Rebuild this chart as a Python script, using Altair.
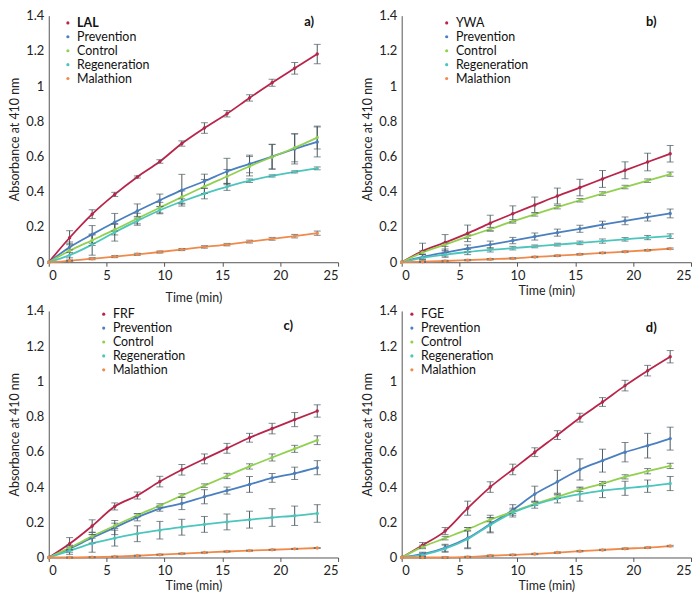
import altair as alt
import pandas as pd

time_min = [0, 1.8, 3.75, 5.7, 7.65, 9.6, 11.5, 13.45, 15.4, 17.35, 19.3, 21.25, 23.2]
series_names = ["Prevention", "Control", "Regeneration", "Malathion"]
colors = ["#b8254a", "#4a7fc0", "#92d050", "#4cc6bc", "#f08a4b"]

# Panel a) LAL
a_first = "LAL"
a_vals = {
    "LAL": [0, 0.139, 0.273, 0.385, 0.484, 0.572, 0.674, 0.762, 0.843, 0.933, 1.019, 1.101, 1.182],
    "Prevention": [0, 0.085, 0.158, 0.227, 0.291, 0.352, 0.409, 0.46, 0.515, 0.558, 0.6, 0.643, 0.683],
    "Control": [0, 0.065, 0.125, 0.185, 0.248, 0.31, 0.37, 0.43, 0.487, 0.545, 0.598, 0.65, 0.708],
    "Regeneration": [0, 0.04, 0.1, 0.17, 0.235, 0.295, 0.345, 0.39, 0.428, 0.463, 0.49, 0.513, 0.533],
    "Malathion": [0, 0.008, 0.02, 0.032, 0.045, 0.058, 0.072, 0.087, 0.1, 0.117, 0.133, 0.148, 0.165],
}
a_err = {
    "LAL": [0, 0.04, 0.025, 0.012, 0.006, 0.01, 0.015, 0.03, 0.018, 0.018, 0.02, 0.033, 0.055],
    "Prevention": [0, 0.03, 0.05, 0.05, 0.04, 0.035, 0.09, 0.04, 0.075, 0.05, 0.07, 0.085, 0.085],
    "Control": [0, 0.04, 0.03, 0.03, 0.03, 0.03, 0.035, 0.04, 0.04, 0.055, 0.07, 0.08, 0.065],
    "Regeneration": [0, 0.03, 0.06, 0.05, 0.025, 0.02, 0.015, 0.03, 0.02, 0.01, 0.006, 0.006, 0.008],
    "Malathion": [0, 0.005, 0.006, 0.006, 0.006, 0.006, 0.006, 0.007, 0.007, 0.008, 0.008, 0.01, 0.012],
}

# Panel b) YWA
b_first = "YWA"
b_vals = {
    "YWA": [0, 0.063, 0.112, 0.164, 0.222, 0.275, 0.325, 0.376, 0.424, 0.473, 0.522, 0.569, 0.616],
    "Prevention": [0, 0.03, 0.055, 0.078, 0.1, 0.123, 0.146, 0.168, 0.19, 0.213, 0.235, 0.256, 0.277],
    "Control": [0, 0.055, 0.1, 0.145, 0.188, 0.232, 0.272, 0.313, 0.352, 0.39, 0.427, 0.463, 0.5],
    "Regeneration": [0, 0.025, 0.043, 0.058, 0.07, 0.08, 0.09, 0.1, 0.11, 0.12, 0.13, 0.14, 0.148],
    "Malathion": [0, 0.003, 0.007, 0.012, 0.017, 0.022, 0.03, 0.037, 0.045, 0.053, 0.06, 0.068, 0.077],
}
b_err = {
    "YWA": [0, 0.045, 0.045, 0.047, 0.045, 0.045, 0.045, 0.045, 0.047, 0.048, 0.048, 0.05, 0.047],
    "Prevention": [0, 0.015, 0.02, 0.02, 0.02, 0.018, 0.02, 0.02, 0.02, 0.02, 0.022, 0.022, 0.025],
    "Control": [0, 0.01, 0.01, 0.01, 0.01, 0.01, 0.01, 0.01, 0.01, 0.01, 0.01, 0.01, 0.012],
    "Regeneration": [0, 0.02, 0.015, 0.015, 0.012, 0.01, 0.008, 0.008, 0.01, 0.012, 0.01, 0.012, 0.013],
    "Malathion": [0, 0.004, 0.004, 0.004, 0.004, 0.004, 0.004, 0.004, 0.004, 0.004, 0.004, 0.004, 0.004],
}

# Panel c) FRF
c_first = "FRF"
c_vals = {
    "FRF": [0, 0.078, 0.179, 0.29, 0.352, 0.431, 0.498, 0.56, 0.62, 0.68, 0.732, 0.783, 0.832],
    "Prevention": [0, 0.05, 0.112, 0.17, 0.228, 0.278, 0.307, 0.345, 0.38, 0.415, 0.452, 0.478, 0.51],
    "Control": [0, 0.055, 0.12, 0.18, 0.24, 0.295, 0.352, 0.408, 0.463, 0.517, 0.568, 0.617, 0.666],
    "Regeneration": [0, 0.038, 0.08, 0.11, 0.135, 0.155, 0.172, 0.188, 0.202, 0.215, 0.227, 0.237, 0.25],
    "Malathion": [0, 0.0, 0.002, 0.005, 0.01, 0.016, 0.022, 0.028, 0.034, 0.039, 0.044, 0.049, 0.054],
}
c_err = {
    "FRF": [0, 0.035, 0.035, 0.02, 0.02, 0.03, 0.03, 0.028, 0.028, 0.025, 0.03, 0.04, 0.035],
    "Prevention": [0, 0.02, 0.03, 0.04, 0.02, 0.015, 0.035, 0.04, 0.02, 0.045, 0.025, 0.035, 0.04],
    "Control": [0, 0.01, 0.01, 0.015, 0.01, 0.01, 0.01, 0.01, 0.015, 0.015, 0.02, 0.02, 0.025],
    "Regeneration": [0, 0.02, 0.05, 0.045, 0.045, 0.05, 0.045, 0.045, 0.045, 0.048, 0.05, 0.055, 0.05],
    "Malathion": [0, 0.003, 0.003, 0.003, 0.003, 0.003, 0.003, 0.003, 0.003, 0.003, 0.003, 0.003, 0.003],
}

# Panel d) FGE
d_first = "FGE"
d_vals = {
    "FGE": [0, 0.07, 0.15, 0.28, 0.4, 0.5, 0.598, 0.695, 0.794, 0.883, 0.976, 1.061, 1.14],
    "Prevention": [0, 0.02, 0.055, 0.11, 0.19, 0.27, 0.36, 0.43, 0.5, 0.55, 0.598, 0.635, 0.675],
    "Control": [0, 0.06, 0.11, 0.16, 0.215, 0.26, 0.305, 0.345, 0.385, 0.42, 0.458, 0.49, 0.52],
    "Regeneration": [0, 0.015, 0.05, 0.105, 0.185, 0.255, 0.3, 0.335, 0.36, 0.38, 0.393, 0.405, 0.42],
    "Malathion": [0, 0.0, 0.0, 0.003, 0.01, 0.015, 0.02, 0.028, 0.036, 0.043, 0.05, 0.056, 0.065],
}
d_err = {
    "FGE": [0, 0.015, 0.02, 0.04, 0.03, 0.03, 0.025, 0.025, 0.025, 0.025, 0.03, 0.03, 0.035],
    "Prevention": [0, 0.01, 0.02, 0.06, 0.05, 0.03, 0.045, 0.065, 0.06, 0.065, 0.055, 0.07, 0.065],
    "Control": [0, 0.01, 0.01, 0.01, 0.012, 0.01, 0.01, 0.01, 0.01, 0.012, 0.012, 0.015, 0.015],
    "Regeneration": [0, 0.01, 0.02, 0.05, 0.04, 0.025, 0.02, 0.025, 0.04, 0.04, 0.04, 0.035, 0.04],
    "Malathion": [0, 0.004, 0.004, 0.004, 0.004, 0.004, 0.004, 0.004, 0.004, 0.004, 0.004, 0.004, 0.004],
}

y_ticks = [0, 0.2, 0.4, 0.6, 0.8, 1.0, 1.2, 1.4]
x_ticks = [0, 5, 10, 15, 20, 25]

FONT = "Lato"
W, H = 291, 248
ERR_COLOR = "#4a5a60"


def make_df(first, vals, errs):
    rows = []
    for k, name in enumerate([first] + series_names):
        for t, v, e in zip(time_min, vals[name], errs[name]):
            rows.append({"x": t, "y": v, "lo": v - e, "hi": v + e, "series": name, "ord": k})
    return pd.DataFrame(rows)


def panel(first, vals, errs, tag, leg_x, leg_y, tag_x, tag_y, title_pad):
    df = make_df(first, vals, errs)
    domain = [first] + series_names
    xsc = alt.Scale(domain=[0, 25], nice=False)
    ysc = alt.Scale(domain=[0, 1.4], nice=False)
    xax = alt.Axis(values=x_ticks, title="Time (min)", grid=False,
                   tickSize=4, titlePadding=title_pad, labelOverlap=False, labelPadding=3)
    yax = alt.Axis(values=y_ticks, format="~g",
                   title="Absorbance at 410 nm", grid=False, ticks=False, labelPadding=5,
                   labelOverlap=False)
    cscale = alt.Scale(domain=domain, range=colors)
    legend = alt.Legend(
        title=None, orient="none", legendX=leg_x, legendY=leg_y,
        symbolType="circle", symbolSize=10, symbolStrokeWidth=0, labelFontSize=12.5,
        labelFont=FONT, labelColor="#111", rowPadding=1, labelOffset=3,
        labelFontWeight=alt.ExprRef("datum.label == 'LAL' ? 'bold' : 'normal'"),
    )
    base = alt.Chart(df)
    X = alt.X("x:Q", scale=xsc, axis=xax)
    lines = base.mark_line(interpolate="monotone", strokeWidth=1.8).encode(
        x=X,
        y=alt.Y("y:Q", scale=ysc, axis=yax),
        color=alt.Color("series:N", scale=cscale, sort=domain, legend=legend),
        detail="series:N",
        order="x:Q",
    )
    bars = base.mark_rule(color=ERR_COLOR, strokeWidth=1).encode(
        x=X, y=alt.Y("lo:Q", scale=ysc, axis=yax), y2="hi:Q"
    ).transform_filter("datum.x > 0")
    caps_lo = base.mark_tick(orient="horizontal", size=7, thickness=1, color=ERR_COLOR).encode(
        x=X, y=alt.Y("lo:Q", scale=ysc, axis=yax)
    ).transform_filter("datum.x > 0")
    caps_hi = base.mark_tick(orient="horizontal", size=7, thickness=1, color=ERR_COLOR).encode(
        x=X, y=alt.Y("hi:Q", scale=ysc, axis=yax)
    ).transform_filter("datum.x > 0")
    pts = base.mark_circle(size=12, opacity=1).encode(
        x=X, y=alt.Y("y:Q", scale=ysc, axis=yax),
        color=alt.Color("series:N", scale=cscale, sort=domain, legend=legend),
    )
    label = alt.Chart(pd.DataFrame({"t": [tag]})).mark_text(
        font=FONT, fontSize=13, fontWeight="bold", color="#111", align="center", baseline="middle"
    ).encode(text="t:N", x=alt.value(tag_x), y=alt.value(tag_y))
    return alt.layer(lines, bars, caps_lo, caps_hi, pts, label).properties(width=W, height=H)


pa = panel(a_first, a_vals, a_err, "a)", 13, 1, 262, 6, 10)
pb = panel(b_first, b_vals, b_err, "b)", 39, 1, 251, 6, 2)
pc = panel(c_first, c_vals, c_err, "c)", 49, -3, 241, 15, 2)
pd_ = panel(d_first, d_vals, d_err, "d)", 4, -3, 251, 17, 2)

top = alt.hconcat(pa, pb, spacing=22).resolve_scale(color="independent")
bottom = alt.hconcat(pc, pd_, spacing=22).resolve_scale(color="independent")
chart = alt.vconcat(top, bottom, spacing=0).resolve_scale(color="independent").properties(
    padding={"left": 0, "top": 0, "right": 0, "bottom": 0}
).configure_view(stroke=None).configure_axis(
    labelFont=FONT, titleFont=FONT, labelFontSize=13, titleFontSize=12.5,
    titleFontWeight="normal", labelColor="#222", titleColor="#222",
    domainColor="#555", tickColor="#555", domainWidth=1, labelOverlap=False,
)

chart.save("out.html", embed_options={"renderer": "svg", "actions": False})
